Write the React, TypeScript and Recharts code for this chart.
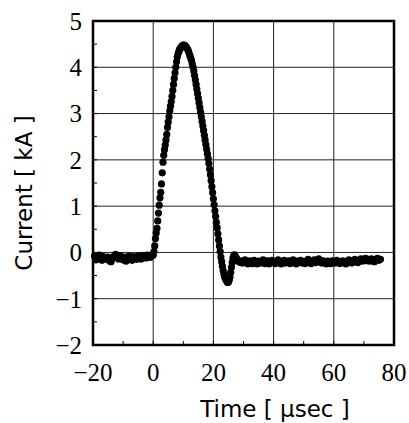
import React from 'react';
import { ScatterChart, Scatter, XAxis, YAxis, ReferenceLine, ReferenceArea, Label } from 'recharts';

// Pre-trigger baseline (µs, kA)
const preTime = [-19.5, -19, -18.5, -18, -17.5, -17, -16.5, -16, -15.5, -15, -14.5, -14, -13.5, -13, -12.5, -12, -11.5, -11, -10.5, -10, -9.5, -9, -8.5, -8, -7.5, -7, -6.5, -6, -5.5, -5, -4.5, -4, -3.5, -3, -2.5, -2, -1.5, -1, -0.5, 0];
const preCurrent = [-0.08, -0.16, -0.12, -0.06, -0.14, -0.17, -0.09, -0.12, -0.15, -0.10, -0.18, -0.20, -0.13, -0.08, -0.04, -0.09, -0.14, -0.07, -0.12, -0.16, -0.10, -0.19, -0.15, -0.08, -0.13, -0.17, -0.09, -0.12, -0.15, -0.08, -0.11, -0.14, -0.07, -0.10, -0.12, -0.06, -0.09, -0.11, -0.05, -0.06];

// Pulse region
const pulseTime = [0.25, 0.5, 0.75, 1, 1.25, 1.5, 1.75, 2, 2.25, 2.5, 2.75, 3, 3.25, 3.5, 3.75, 4, 4.25, 4.5, 4.75, 5, 5.25, 5.5, 5.75, 6, 6.25, 6.5, 6.75, 7, 7.25, 7.5, 7.75, 8, 8.25, 8.5, 8.75, 9, 9.25, 9.5, 9.75, 10, 10.25, 10.5, 10.75, 11, 11.25, 11.5, 11.75, 12, 12.25, 12.5, 12.75, 13, 13.25, 13.5, 13.75, 14, 14.25, 14.5, 14.75, 15, 15.25, 15.5, 15.75, 16, 16.25, 16.5, 16.75, 17, 17.25, 17.5, 17.75, 18, 18.25, 18.5, 18.75, 19, 19.25, 19.5, 19.75, 20, 20.25, 20.5, 20.75, 21, 21.25, 21.5, 21.75, 22, 22.25, 22.5, 22.75, 23, 23.25, 23.5, 23.75, 24, 24.25, 24.5, 24.75, 25, 25.25, 25.5, 25.75, 26, 26.25, 26.5, 26.75, 27, 27.25, 27.5, 27.75, 28, 28.25, 28.5, 28.75, 29, 29.25, 29.5, 29.75, 30];
const pulseCurrent = [0.02, 0.14, 0.30, 0.42, 0.52, 0.68, 0.85, 1.02, 1.18, 1.30, 1.48, 1.72, 1.95, 2.10, 2.22, 2.32, 2.43, 2.55, 2.70, 2.82, 2.93, 3.06, 3.16, 3.26, 3.37, 3.50, 3.63, 3.76, 3.88, 4.00, 4.12, 4.22, 4.29, 4.34, 4.38, 4.41, 4.43, 4.45, 4.47, 4.48, 4.48, 4.47, 4.46, 4.43, 4.41, 4.38, 4.34, 4.29, 4.24, 4.19, 4.14, 4.07, 4.00, 3.92, 3.82, 3.73, 3.63, 3.53, 3.43, 3.33, 3.23, 3.13, 3.03, 2.93, 2.83, 2.73, 2.63, 2.53, 2.43, 2.33, 2.23, 2.13, 2.03, 1.92, 1.80, 1.68, 1.55, 1.42, 1.29, 1.16, 1.03, 0.90, 0.78, 0.65, 0.53, 0.40, 0.27, 0.14, 0.02, -0.10, -0.20, -0.30, -0.39, -0.47, -0.53, -0.57, -0.60, -0.63, -0.65, -0.64, -0.60, -0.53, -0.43, -0.32, -0.22, -0.13, -0.07, -0.05, -0.08, -0.11, -0.14, -0.17, -0.19, -0.18, -0.21, -0.20, -0.22, -0.19, -0.23, -0.20];

// Tail
const tailTime = [30.5, 31, 31.5, 32, 32.5, 33, 33.5, 34, 34.5, 35, 35.5, 36, 36.5, 37, 37.5, 38, 38.5, 39, 39.5, 40, 40.5, 41, 41.5, 42, 42.5, 43, 43.5, 44, 44.5, 45, 45.5, 46, 46.5, 47, 47.5, 48, 48.5, 49, 49.5, 50, 50.5, 51, 51.5, 52, 52.5, 53, 53.5, 54, 54.5, 55, 55.5, 56, 56.5, 57, 57.5, 58, 58.5, 59, 59.5, 60, 60.5, 61, 61.5, 62, 62.5, 63, 63.5, 64, 64.5, 65, 65.5, 66, 66.5, 67, 67.5, 68, 68.5, 69, 69.5, 70, 70.5, 71, 71.5, 72, 72.5, 73, 73.5, 74, 74.5, 75, 75.5];
const tailCurrent = [-0.16, -0.22, -0.25, -0.18, -0.21, -0.24, -0.17, -0.22, -0.25, -0.19, -0.23, -0.20, -0.16, -0.24, -0.21, -0.18, -0.25, -0.22, -0.17, -0.21, -0.24, -0.19, -0.16, -0.22, -0.25, -0.20, -0.17, -0.23, -0.21, -0.18, -0.24, -0.20, -0.16, -0.22, -0.25, -0.19, -0.21, -0.17, -0.23, -0.20, -0.24, -0.18, -0.15, -0.21, -0.24, -0.19, -0.16, -0.22, -0.18, -0.14, -0.20, -0.23, -0.18, -0.21, -0.25, -0.19, -0.22, -0.24, -0.18, -0.21, -0.23, -0.17, -0.20, -0.24, -0.21, -0.18, -0.22, -0.25, -0.19, -0.16, -0.21, -0.23, -0.18, -0.15, -0.20, -0.22, -0.17, -0.14, -0.19, -0.16, -0.13, -0.18, -0.15, -0.19, -0.14, -0.17, -0.20, -0.15, -0.13, -0.17, -0.15];

const xTicks = [-20, -10, 0, 10, 20, 30, 40, 50, 60, 70, 80];
const yTicks = [-2, -1.5, -1, -0.5, 0, 0.5, 1, 1.5, 2, 2.5, 3, 3.5, 4, 4.5, 5];
const xGrid = [0, 20, 40, 60];
const yGrid = [-1, 0, 1, 2, 3, 4];

const timeAll = [...preTime, ...pulseTime, ...tailTime];
const currentAll = [...preCurrent, ...pulseCurrent, ...tailCurrent];
const data = timeAll.map((t, i) => ({ t, c: currentAll[i] }));

const fmt = (v: number) => (v < 0 ? `\u2212${-v}` : `${v}`);

const XTick = (props: any) => {
  const { x, y, payload } = props;
  if (payload.value % 20 !== 0) return <g />;
  return (
    <text x={x} y={y} dy="0.71em" textAnchor="middle" fontFamily="'Liberation Serif', serif" fontSize={25} fill="#000">
      {fmt(payload.value)}
    </text>
  );
};

const YTick = (props: any) => {
  const { x, y, payload } = props;
  if (!Number.isInteger(payload.value)) return <g />;
  return (
    <text x={x} y={y} dy="0.355em" textAnchor="end" fontFamily="'Liberation Serif', serif" fontSize={25} fill="#000">
      {fmt(payload.value)}
    </text>
  );
};

const Dot = (props: any) => <circle cx={props.cx} cy={props.cy} r={3.6} fill="#000" />;

export default function App() {
  return (
    <div style={{ position: 'absolute', left: 0, top: 0, background: '#fff' }}>
      <ScatterChart width={409} height={423} margin={{ top: 21, right: 15, bottom: 48, left: 33 }}>
        <XAxis
          dataKey="t"
          type="number"
          domain={[-20, 80]}
          ticks={xTicks}
          interval={0}
          height={30}
          axisLine={false}
          tickLine={{ stroke: '#000', strokeWidth: 1 }}
          tickSize={-4}
          tickMargin={22}
          tick={XTick}
        >
          <Label
            content={(p: any) => {
              const vb = p.viewBox || { x: 93, y: 345, width: 301 };
              return (
                <text x={vb.x + vb.width / 2 + 31.5} y={vb.y + 72} textAnchor="middle" fontFamily="'DejaVu Sans', sans-serif" fontSize={23} fill="#000">
                  Time [ µsec ]
                </text>
              );
            }}
          />
        </XAxis>
        <YAxis
          dataKey="c"
          type="number"
          domain={[-2, 5]}
          ticks={yTicks}
          interval={0}
          width={60}
          axisLine={false}
          tickLine={{ stroke: '#000', strokeWidth: 1 }}
          tickSize={-4}
          tickMargin={15}
          tick={YTick}
        >
          <Label
            content={(p: any) => {
              const vb = p.viewBox || { x: 33, y: 21, height: 324 };
              const x = vb.x - 1;
              const y = vb.y + vb.height / 2 + 10;
              return (
                <text x={x} y={y} transform={`rotate(-90, ${x}, ${y})`} textAnchor="middle" fontFamily="'DejaVu Sans', sans-serif" fontSize={23} fill="#000">
                  Current [ kA ]
                </text>
              );
            }}
          />
        </YAxis>
        {xGrid.map((v) => (
          <ReferenceLine key={`gx${v}`} x={v} stroke="#222" strokeWidth={1} />
        ))}
        {yGrid.map((v) => (
          <ReferenceLine key={`gy${v}`} y={v} stroke="#222" strokeWidth={1} />
        ))}
        <ReferenceArea x1={-20} x2={80} y1={-2} y2={5} fill="none" fillOpacity={0} stroke="#000" strokeWidth={2.5} />
        <Scatter data={data} shape={Dot} isAnimationActive={false} />
      </ScatterChart>
    </div>
  );
}
